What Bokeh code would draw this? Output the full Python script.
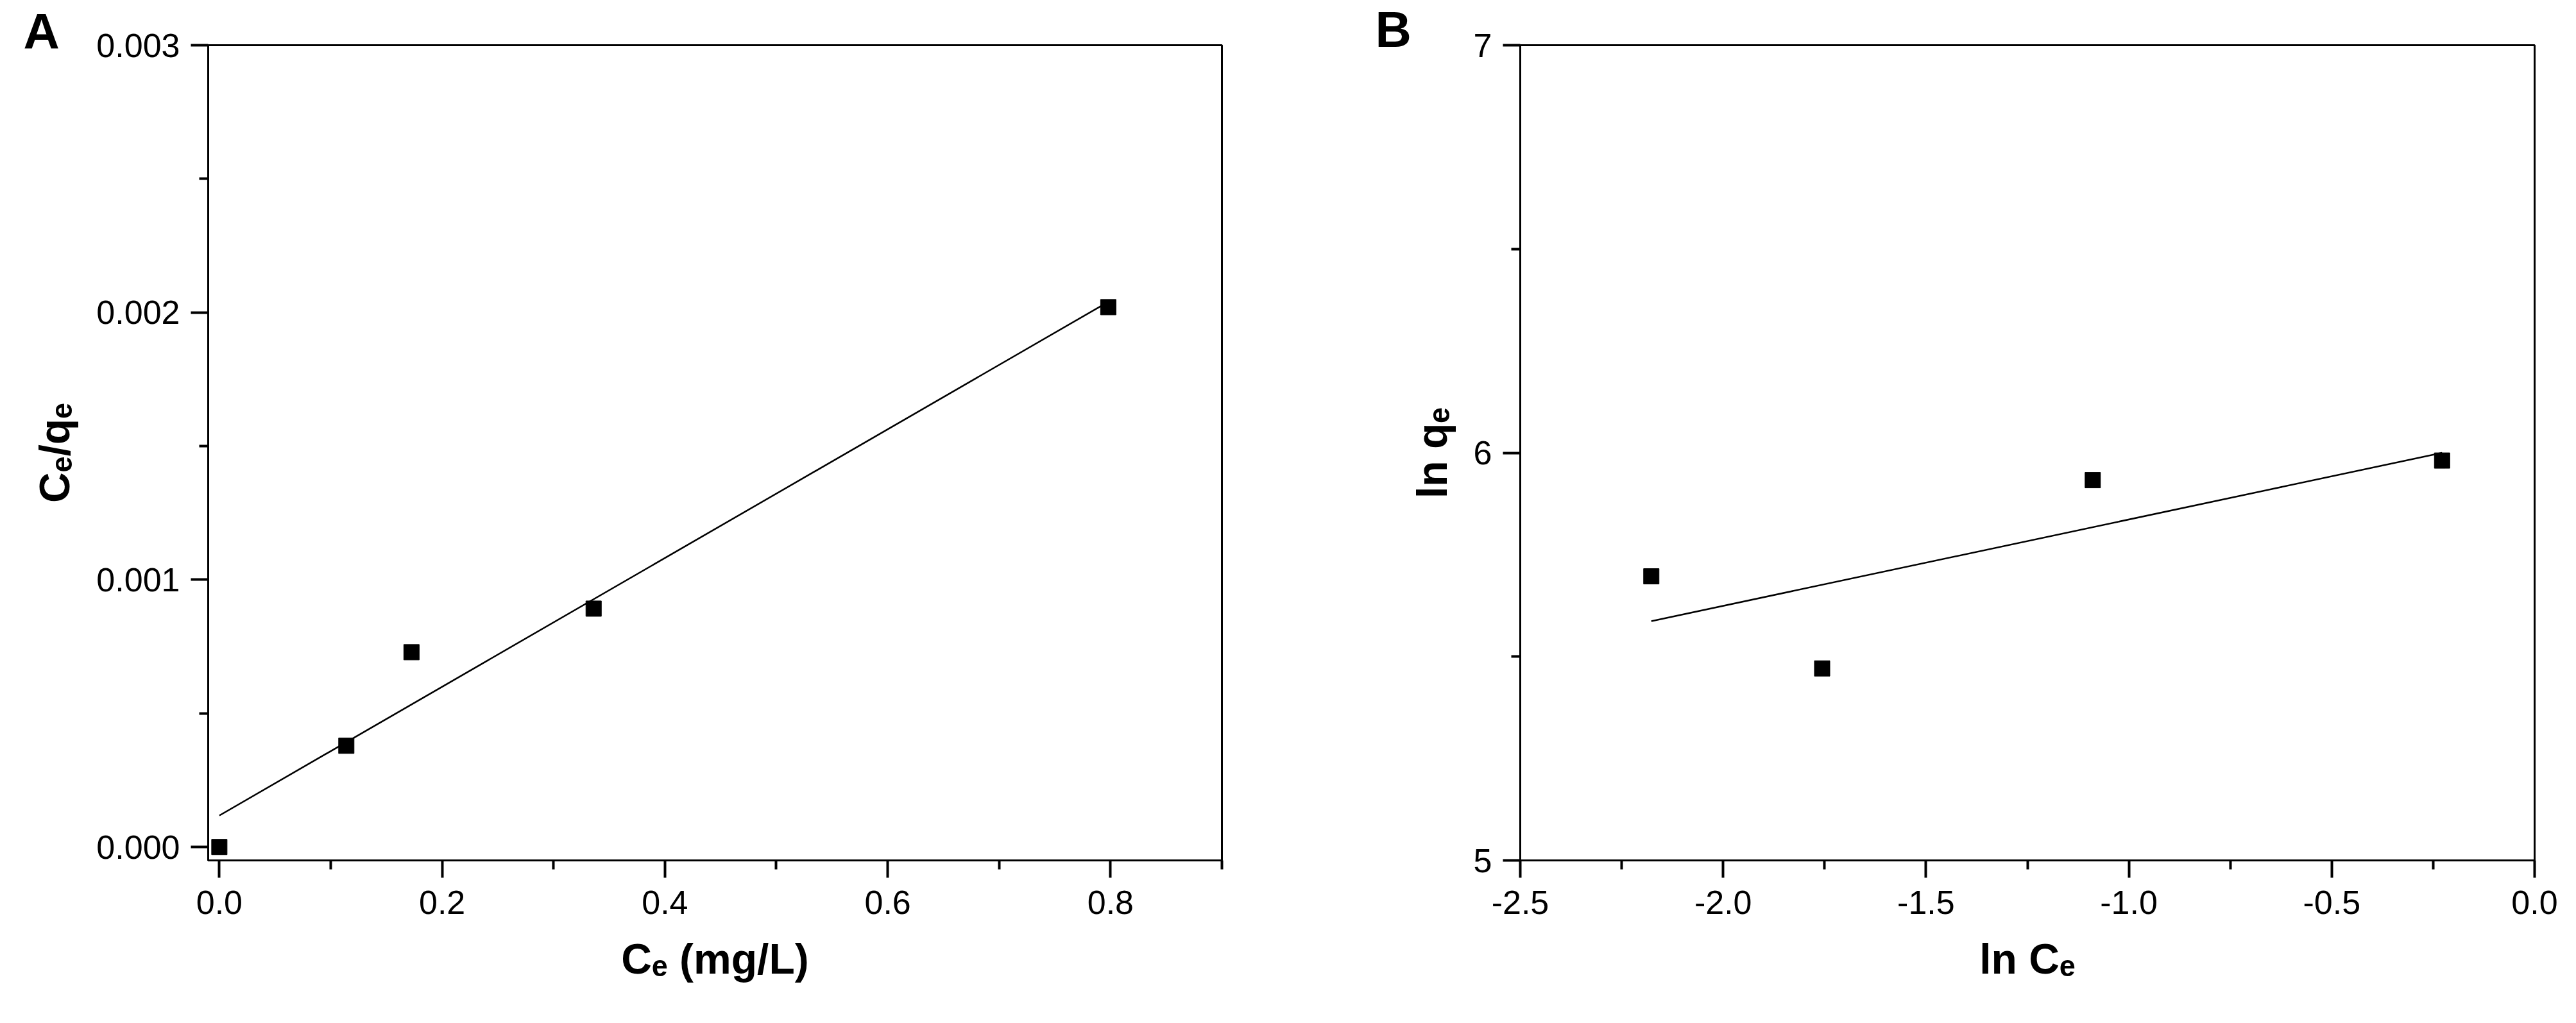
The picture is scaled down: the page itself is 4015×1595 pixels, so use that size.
from bokeh.plotting import figure
from bokeh.layouts import row
from bokeh.models import FixedTicker, Range1d, Title
from bokeh.embed import file_html
from bokeh.resources import INLINE

# ---------------- data ----------------
# Panel A: Langmuir (Ce/qe vs Ce)
ce_a = [0.0, 0.114, 0.1725, 0.336, 0.798]
ceqe_a = [0.0, 0.000379, 0.000729, 0.000892, 0.00202]
fit_x_a = [0.0, 0.798]
fit_y_a = [0.000118, 0.00204]
xticks_a = [0.0, 0.2, 0.4, 0.6, 0.8]
xtick_labels_a = ["0.0", "0.2", "0.4", "0.6", "0.8"]
xminor_a = [0.1, 0.3, 0.5, 0.7, 0.9]
yticks_a = [0.0, 0.001, 0.002, 0.003]
ytick_labels_a = ["0.000", "0.001", "0.002", "0.003"]
yminor_a = [0.0005, 0.0015, 0.0025]
xlabel_a = "C\u2091 (mg/L)"
ylabel_a = "C\u2091/q\u2091"

# Panel B: Freundlich (ln qe vs ln Ce)
lnce_b = [-2.177, -1.756, -1.089, -0.228]
lnqe_b = [5.697, 5.471, 5.933, 5.981]
fit_x_b = [-2.177, -0.228]
fit_y_b = [5.587, 6.0]
xticks_b = [-2.5, -2.0, -1.5, -1.0, -0.5, 0.0]
xtick_labels_b = ["-2.5", "-2.0", "-1.5", "-1.0", "-0.5", "0.0"]
xminor_b = [-2.25, -1.75, -1.25, -0.75, -0.25]
yticks_b = [5, 6, 7]
ytick_labels_b = ["5", "6", "7"]
yminor_b = [5.5, 6.5]
xlabel_b = "ln C\u2091"
ylabel_b = "ln q\u2091"

FONT = "Liberation Sans"
TICK_FS = "52px"
LAB_FS = "66px"
PANEL_FS = "78px"
HEIGHT = 1579
TOP, BOTTOM = 70, 238


def make_fig(width, left, right, xr, yr, xt, xtl, xm, yt, ytl, ym,
             xlabel, ylabel, letter, letter_offset, letter_standoff):
    p = figure(width=width, height=HEIGHT, output_backend="svg", toolbar_location=None,
               x_range=Range1d(*xr), y_range=Range1d(*yr),
               min_border_left=left, min_border_right=right,
               min_border_top=TOP, min_border_bottom=BOTTOM)
    p.title = Title(text=letter, text_font=FONT, text_font_size=PANEL_FS,
                    text_font_style="bold", text_color="black", align="left",
                    offset=letter_offset, standoff=letter_standoff,
                    vertical_align="bottom")
    p.xgrid.visible = False
    p.ygrid.visible = False
    p.background_fill_color = "white"
    p.border_fill_color = "white"
    p.outline_line_color = "black"
    p.outline_line_width = 3
    p.xaxis.ticker = FixedTicker(ticks=xt, minor_ticks=xm)
    p.yaxis.ticker = FixedTicker(ticks=yt, minor_ticks=ym)
    p.xaxis.major_label_overrides = {float(t): l for t, l in zip(xt, xtl)}
    p.yaxis.major_label_overrides = {float(t): l for t, l in zip(yt, ytl)}
    p.xaxis.axis_label = xlabel
    p.yaxis.axis_label = ylabel
    for ax in (p.xaxis[0], p.yaxis[0]):
        ax.axis_line_width = 3
        ax.axis_line_color = "black"
        ax.major_tick_in = 0
        ax.major_tick_out = 27
        ax.minor_tick_in = 0
        ax.minor_tick_out = 14
        ax.major_tick_line_width = 4
        ax.minor_tick_line_width = 4
        ax.major_tick_line_color = "black"
        ax.minor_tick_line_color = "black"
        ax.major_label_text_font = FONT
        ax.major_label_text_font_size = TICK_FS
        ax.major_label_text_color = "black"
        ax.axis_label_text_font = FONT
        ax.axis_label_text_font_size = LAB_FS
        ax.axis_label_text_font_style = "bold"
        ax.axis_label_text_color = "black"
    p.xaxis.major_label_standoff = 20
    p.yaxis.major_label_standoff = 17
    p.xaxis.axis_label_standoff = 30
    p.yaxis.axis_label_standoff = 25
    return p


pa = make_fig(2032, 324, 128, (-0.01, 0.9), (-0.00005, 0.003),
              xticks_a, xtick_labels_a, xminor_a, yticks_a, ytick_labels_a, yminor_a,
              xlabel_a, ylabel_a, "A", -288, -45)
pa.line(fit_x_a, fit_y_a, line_color="black", line_width=2.5)
pa.scatter(ce_a, ceqe_a, marker="square", size=24, color="black")

pb = make_fig(1967, 337, 49, (-2.5, 0.0), (5.0, 7.0),
              xticks_b, xtick_labels_b, xminor_b, yticks_b, ytick_labels_b, yminor_b,
              xlabel_b, ylabel_b, "B", -226, -38)
pb.line(fit_x_b, fit_y_b, line_color="black", line_width=2.5)
pb.scatter(lnce_b, lnqe_b, marker="square", size=24, color="black")

layout = row(pa, pb)
open("out.html", "w").write(file_html(layout, INLINE))
